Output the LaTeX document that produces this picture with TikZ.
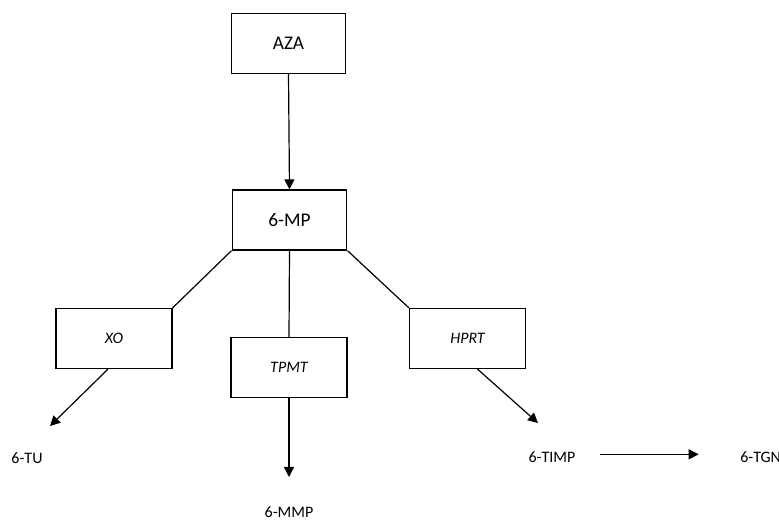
\documentclass[tikz,border=0pt]{standalone}
\usepackage{fontspec}
\setmainfont{Carlito}
\usetikzlibrary{arrows.meta}
\tikzset{
  stepbox/.style={draw, line width=0.9pt, minimum width=86pt, minimum height=45pt, inner sep=0pt, font=\fontsize{14.5}{16}\selectfont},
  enzbox/.style={draw, line width=0.9pt, minimum width=87pt, minimum height=45pt, inner sep=0pt, font=\fontsize{12}{14}\selectfont\itshape},
  prod/.style={inner sep=0pt, font=\fontsize{12}{14}\selectfont},
  conv/.style={line width=0.9pt, -{Triangle[length=7.5pt, width=7.5pt]}},
  link/.style={line width=0.9pt}
}
\begin{document}
\begin{tikzpicture}[x=0.75pt, y=-0.75pt]
    \useasboundingbox (0,0) rectangle (779,520);
    % prodrug and active drug
    \node[stepbox] (aza) at (288.5,43.5) {AZA};
    \node[stepbox] (mp) at (289.5,220) {6-MP};
    \draw[conv] (aza.south) -- (mp.north);
    % enzymes
    \node[enzbox] (xo) at (114,338.5) {XO};
    \node[enzbox] (tpmt) at (289,367.5) {TPMT};
    \node[enzbox] (hprt) at (467.5,338.5) {HPRT};
    \draw[link] (mp.south west) -- (xo.north east);
    \draw[link] (mp.south) -- (tpmt.north);
    \draw[link] (mp.south east) -- (hprt.north west);
    % metabolites
    \node[prod] (tu) at (27,458) {6-TU};
    \node[prod] (mmp) at (289,512) {6-MMP};
    \node[prod] (timp) at (552,457) {6-TIMP};
    \node[prod, anchor=west] (tgn) at (740,457) {6-TGN};
    \coordinate (tutip) at (50,426);
    \coordinate (timptip) at (538,423);
    \draw[conv] ([xshift=-4.5pt]xo.south) -- (tutip);
    \draw[conv] (tpmt.south) -- (289,477);
    \draw[conv] ([xshift=7.5pt]hprt.south) -- (timptip);
    \draw[conv] ([xshift=18pt,yshift=2pt]timp.east) -- ([xshift=-31pt,yshift=2pt]tgn.west);
\end{tikzpicture}
\end{document}
